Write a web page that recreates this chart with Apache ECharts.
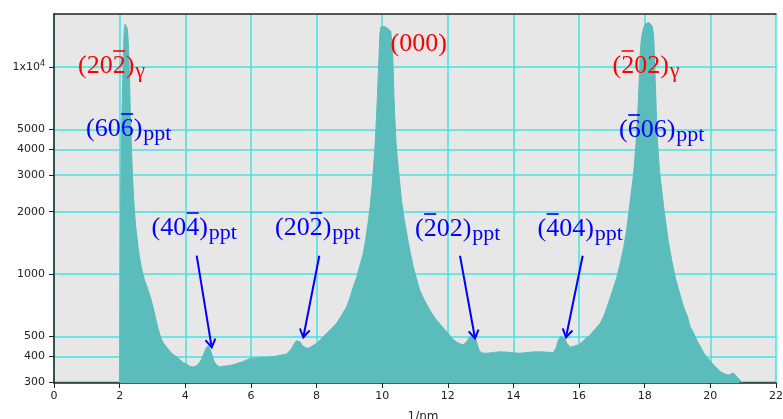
<!DOCTYPE html>
<html>
<head>
<meta charset="utf-8">
<script src="https://cdn.jsdelivr.net/npm/echarts@6/dist/echarts.min.js"></script>
<style>
  html, body { margin: 0; padding: 0; background: #fff; }
  #chart { width: 783px; height: 419px; }
</style>
</head>
<body>
<div id="chart"></div>
<script>
// scattering vector (1/nm) and intensity
const nmPos = [
  2.00, 2.02, 2.05, 2.08, 2.11, 2.14, 2.17, 2.20, 2.23, 2.255, 2.28, 2.30, 2.32, 2.34, 2.36, 2.39,
  2.43, 2.46, 2.49, 2.53, 2.56, 2.60, 2.66, 2.71, 2.76, 2.81, 2.86, 2.92, 2.97, 3.02, 3.07, 3.12,
  3.17, 3.22, 3.28, 3.35, 3.43, 3.52, 3.62, 3.73, 3.84, 3.94, 4.04, 4.14, 4.24, 4.34, 4.42, 4.50,
  4.57, 4.63, 4.70, 4.76, 4.82, 4.88, 4.96, 5.05, 5.15, 5.30, 5.45, 5.60, 5.75, 5.90, 6.00, 6.15,
  6.30, 6.45, 6.58, 6.75, 6.90, 7.00, 7.09, 7.18, 7.24, 7.32, 7.38, 7.44, 7.50, 7.56, 7.62, 7.70,
  7.78, 7.88, 8.00, 8.15, 8.31, 8.46, 8.61, 8.76, 8.92, 9.02, 9.12, 9.22, 9.32, 9.42, 9.50, 9.58,
  9.63, 9.68, 9.73, 9.78, 9.83, 9.86, 9.88, 9.91, 9.93, 9.96, 10.00, 10.05, 10.10, 10.14, 10.20, 10.26,
  10.29, 10.32, 10.34, 10.36, 10.39, 10.42, 10.45, 10.49, 10.54, 10.59, 10.67, 10.75, 10.85, 10.95, 11.05, 11.15,
  11.30, 11.46, 11.61, 11.76, 11.92, 12.07, 12.17, 12.27, 12.37, 12.47, 12.57, 12.65, 12.72, 12.78, 12.84, 12.90,
  12.96, 13.05, 13.20, 13.40, 13.60, 13.80, 14.00, 14.20, 14.40, 14.60, 14.81, 15.00, 15.22, 15.30, 15.37, 15.44,
  15.50, 15.57, 15.63, 15.73, 15.85, 15.98, 16.10, 16.22, 16.34, 16.44, 16.54, 16.64, 16.75, 16.85, 16.95, 17.05,
  17.15, 17.25, 17.36, 17.44, 17.51, 17.58, 17.66, 17.70, 17.74, 17.78, 17.81, 17.84, 17.86, 17.89, 17.92, 17.97,
  18.02, 18.08, 18.13, 18.17, 18.22, 18.27, 18.30, 18.32, 18.35, 18.37, 18.41, 18.45, 18.51, 18.58, 18.65, 18.73,
  18.83, 18.93, 19.06, 19.19, 19.29, 19.39, 19.49, 19.58, 19.70, 19.80, 19.90, 20.00, 20.10, 20.20, 20.31, 20.45,
  20.56, 20.64, 20.71, 20.78, 20.86, 20.94, 20.98
];
const counts = [
  298, 1450, 4300, 6800, 11000, 15200, 16100, 15800, 15400, 13900, 11500, 9000, 6600, 5000, 4100, 3050,
  2260, 1950, 1690, 1500, 1350, 1230, 1080, 1000, 930, 890, 840, 790, 740, 690, 640, 590,
  545, 513, 480, 460, 444, 425, 410, 398, 385, 373, 366, 358, 355, 360, 370, 388,
  414, 436, 450, 432, 405, 378, 362, 356, 358, 360, 364, 370, 377, 386, 392, 392,
  395, 396, 398, 400, 405, 408, 411, 425, 437, 460, 476, 486, 470, 452, 443, 438,
  440, 450, 462, 488, 517, 545, 578, 630, 695, 770, 868, 960, 1100, 1250, 1480, 1810,
  2100, 2520, 3150, 4090, 5900, 7600, 9200, 12000, 14400, 15600, 15900, 15700, 15800, 15500, 15300, 14900,
  13500, 11500, 9300, 7100, 5500, 4400, 3800, 3270, 2700, 2260, 1850, 1560, 1280, 1080, 940, 830,
  740, 665, 612, 573, 535, 503, 482, 468, 460, 455, 470, 492, 505, 510, 490, 455,
  425, 415, 414, 418, 421, 419, 416, 414, 417, 420, 421, 419, 417, 440, 480, 500,
  507, 485, 462, 443, 448, 455, 470, 490, 507, 532, 553, 577, 625, 690, 770, 860,
  964, 1120, 1345, 1600, 1950, 2400, 3040, 3650, 4400, 5700, 7100, 9300, 11500, 13200, 14400, 15500,
  16150, 16500, 16400, 16450, 15800, 14400, 11000, 8600, 6300, 4900, 3900, 3160, 2600, 2100, 1720, 1400,
  1150, 964, 810, 690, 630, 552, 520, 480, 445, 415, 395, 380, 363, 350, 337, 328,
  325, 330, 332, 322, 313, 302, 298
];
const xTicks = [0, 2, 4, 6, 8, 10, 12, 14, 16, 18, 20, 22];
const yTickValues = [300, 400, 500, 1000, 2000, 3000, 4000, 5000, 10000];

const FILL = '#5bbcbc';
const GRID = '#44e2e2';
const INK = '#222';
const LOG_MIN = Math.log10(297.4);
const LOG_MAX = Math.log10(18030);

const chart = echarts.init(document.getElementById('chart'));

// text measuring for overlines and subscripts
const ctx = document.createElement('canvas').getContext('2d');
function textW(str, size) {
  ctx.font = size + 'px "Liberation Serif"';
  return ctx.measureText(str).width;
}

function indexLabel(left, mid, main, barAt, sub, color) {
  const els = [{
    type: 'text', x: left, y: mid, z: 100,
    style: { text: main, font: '26px "Liberation Serif"', fill: color, verticalAlign: 'middle' }
  }];
  if (barAt >= 0) {
    const x0 = left + textW(main.slice(0, barAt), 26);
    const x1 = left + textW(main.slice(0, barAt + 1), 26);
    els.push({
      type: 'line', z: 100,
      shape: { x1: x0 + 0.5, y1: mid - 15, x2: x1 - 0.5, y2: mid - 15 },
      style: { stroke: color, lineWidth: 1.6 }
    });
  }
  if (sub) {
    els.push({
      type: 'text', x: left + textW(main, 26) + 1, y: mid + 5.5, z: 100,
      style: { text: sub, font: '22px "Liberation Serif"', fill: color, verticalAlign: 'middle' }
    });
  }
  return els;
}

function arrow(x1, y1, x2, y2) {
  const dx = x2 - x1, dy = y2 - y1;
  const len = Math.sqrt(dx * dx + dy * dy);
  const ux = dx / len, uy = dy / len;
  const px = -uy, py = ux;
  return [
    { type: 'line', z: 100, shape: { x1: x1, y1: y1, x2: x2, y2: y2 }, style: { stroke: '#0000ff', lineWidth: 2 } },
    {
      type: 'polyline', z: 100,
      shape: { points: [[x2 - 8 * ux + 5 * px, y2 - 8 * uy + 5 * py], [x2, y2], [x2 - 8 * ux - 5 * px, y2 - 8 * uy - 5 * py]] },
      style: { stroke: '#0000ff', lineWidth: 2, fill: null }
    }
  ];
}

const graphics = [].concat(
  indexLabel(78, 66, '(202)', 3, 'γ', '#ff0000'),
  indexLabel(86, 129, '(606)', 3, 'ppt', '#0000ff'),
  indexLabel(151.5, 228, '(404)', 3, 'ppt', '#0000ff'),
  indexLabel(275, 228, '(202)', 3, 'ppt', '#0000ff'),
  indexLabel(390.5, 44, '(000)', -1, '', '#ff0000'),
  indexLabel(415, 229, '(202)', 1, 'ppt', '#0000ff'),
  indexLabel(537.5, 229, '(404)', 1, 'ppt', '#0000ff'),
  indexLabel(612.5, 66, '(202)', 1, 'γ', '#ff0000'),
  indexLabel(619, 130, '(606)', 1, 'ppt', '#0000ff'),
  arrow(196.7, 255.7, 211.7, 347.3),
  arrow(319.3, 255.7, 303.3, 337.3),
  arrow(460, 255.7, 475, 338.3),
  arrow(582.7, 255.7, 566, 337.3)
);

const option = {
  animation: false,
  grid: {
    left: 54, right: 7, top: 14, bottom: 36, outerBoundsMode: 'none',
    show: true, backgroundColor: '#e7e7e7', borderWidth: 0
  },
  xAxis: [
    {
      type: 'value', min: 0, max: 22, interval: 2,
      axisLine: { lineStyle: { color: INK, width: 1.5 } },
      axisTick: { length: 5, lineStyle: { color: INK } },
      axisLabel: { margin: 8, color: INK, fontSize: 11, fontFamily: 'DejaVu Sans' },
      splitLine: { show: true, lineStyle: { color: GRID, width: 1.5 } },
      name: '1/nm', nameLocation: 'middle', nameGap: 28,
      nameTextStyle: { color: INK, fontSize: 12, fontFamily: 'DejaVu Sans', padding: [0, 0, 0, 16] }
    },
    {
      type: 'value', position: 'top', min: 0, max: 22,
      axisLine: { show: true, onZero: false, lineStyle: { color: INK, width: 1.5 } },
      axisTick: { show: false }, axisLabel: { show: false }, splitLine: { show: false }
    }
  ],
  yAxis: {
    type: 'value', min: LOG_MIN, max: LOG_MAX,
    axisLine: { show: true, lineStyle: { color: INK, width: 1.5 } },
    axisTick: { show: true, length: 5, lineStyle: { color: INK }, customValues: yTickValues.map(Math.log10) },
    axisLabel: {
      customValues: yTickValues.map(Math.log10),
      margin: 9, color: INK, fontSize: 11, fontFamily: 'DejaVu Sans',
      formatter: function (v) {
        const n = Math.round(Math.pow(10, v));
        return n === 10000 ? '1x10{sup|4}' : String(n);
      },
      rich: { sup: { fontSize: 8, padding: [0, 0, 7, 0], color: INK, fontFamily: 'DejaVu Sans' } }
    },
    splitLine: { show: true, lineStyle: { color: GRID, width: 1.5 } }
  },
  series: [{
    type: 'line',
    data: nmPos.map((x, i) => [x, Math.log10(counts[i])]),
    symbol: 'none',
    lineStyle: { width: 1, color: FILL },
    areaStyle: { color: FILL, opacity: 1, origin: 'start' }
  }],
  graphic: graphics
};

chart.setOption(option);
</script>
</body>
</html>
